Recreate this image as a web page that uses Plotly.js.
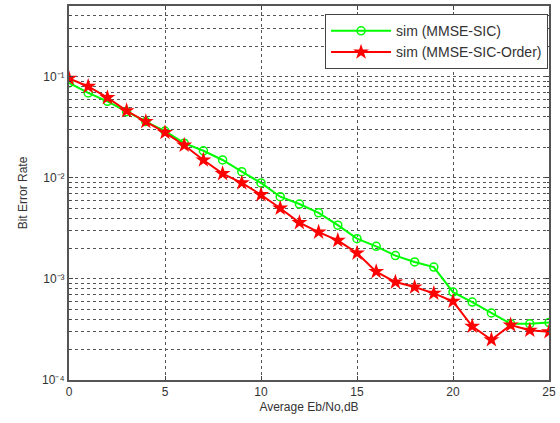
<!DOCTYPE html>
<html>
<head>
<meta charset="utf-8">
<script src="https://cdn.plot.ly/plotly-3.0.1.min.js"></script>
<style>html,body{margin:0;padding:0;background:#fff;}#chart{width:560px;height:423px;}</style>
</head>
<body>
<div id="chart"></div>
<script>
const ebno = [0,1,2,3,4,5,6,7,8,9,10,11,12,13,14,15,16,17,18,19,20,21,22,23,24,25];
const berSic = [0.087,0.069,0.057,0.045,0.036,0.029,0.022,0.0185,0.015,0.0115,0.0089,0.0065,0.0055,0.0045,0.0034,0.0025,0.0021,0.0017,0.00147,0.00131,0.00074,0.00059,0.00046,0.00036,0.00036,0.00037];
const berSicOrder = [0.096,0.080,0.062,0.046,0.036,0.028,0.021,0.015,0.011,0.0089,0.0068,0.0050,0.0036,0.0029,0.0024,0.0018,0.00118,0.00093,0.00083,0.00072,0.00060,0.00034,0.00025,0.00035,0.00031,0.00030];
const seriesNames = ["sim (MMSE-SIC)", "sim (MMSE-SIC-Order)"];
const xTicks = [0,5,10,15,20,25];
const decadeExps = [-4,-3,-2,-1];
const decadeLabels = ["10\u207B\u2074", "10\u207B\u00B3", "10\u207B\u00B2", "10\u207B\u00B9"];

const yMajorVals = decadeExps.map(e => Math.pow(10, e));
const yMinorVals = [];
decadeExps.forEach(e => {
  for (let d = 2; d <= 9; d++) {
    const v = d * Math.pow(10, e);
    if (v > 0.5 + 1e-9) break;
    yMinorVals.push(v);
  }
});

const traces = [
  {x: ebno, y: berSic, name: seriesNames[0], mode: "lines+markers",
   line: {color: "#00ff00", width: 2},
   marker: {symbol: "circle-open", size: 8, color: "#00ff00", line: {width: 1.5, color: "#00ff00"}}},
  {x: ebno, y: berSicOrder, name: seriesNames[1], mode: "lines+markers",
   line: {color: "#ff0000", width: 2},
   marker: {symbol: "star", size: 12, color: "#ff0000", line: {width: 0}}}
];

const fontFam = "Arial, Liberation Sans, sans-serif";
const axisCommon = {
  showline: true, linecolor: "#555", linewidth: 2, mirror: "ticks",
  ticks: "inside", ticklen: 4, tickcolor: "#444",
  showgrid: true, gridcolor: "#555", griddash: "dot", gridwidth: 1,
  zeroline: false,
  tickfont: {family: fontFam, size: 12, color: "#333"}
};

const layout = {
  width: 560, height: 423,
  margin: {l: 69, r: 11, t: 6, b: 43},
  paper_bgcolor: "#fff", plot_bgcolor: "#fff",
  showlegend: true,
  legend: {x: 0.998, y: 0.978, xanchor: "right", yanchor: "top",
           bordercolor: "#444", borderwidth: 1, bgcolor: "#fff",
           font: {family: fontFam, size: 14, color: "#333"},
           tracegroupgap: 0, itemwidth: 60},
  xaxis: Object.assign({}, axisCommon, {
    range: [0, 25], tickvals: xTicks,
    title: {text: "Average Eb/No,dB", standoff: 4,
            font: {family: fontFam, size: 12, color: "#333"}}
  }),
  yaxis: Object.assign({}, axisCommon, {
    type: "log", range: [-4, Math.log10(0.5)],
    tickvals: yMajorVals, ticktext: decadeLabels,
    minor: {tickmode: "array", tickvals: yMinorVals, ticks: "inside", ticklen: 2,
            tickcolor: "#444", showgrid: true, gridcolor: "#555", griddash: "dot", gridwidth: 1},
    title: {text: "Bit Error Rate", standoff: 12,
            font: {family: fontFam, size: 12, color: "#333"}}
  })
};

Plotly.newPlot("chart", traces, layout, {displayModeBar: false, staticPlot: true});
</script>
</body>
</html>
